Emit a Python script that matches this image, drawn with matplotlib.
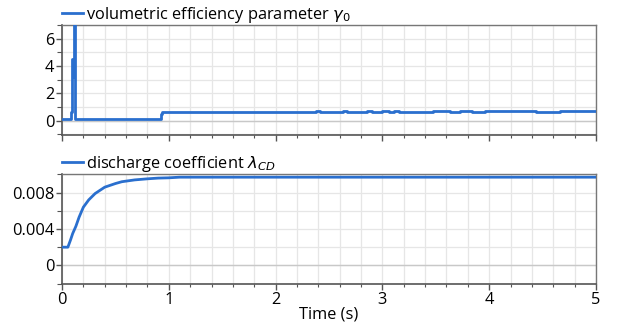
import matplotlib
matplotlib.use("Agg")
import matplotlib.pyplot as plt
from matplotlib.ticker import MultipleLocator

# ---- data ----
gamma_t = [0.0, 0.080, 0.084, 0.096, 0.104, 0.112, 0.119, 0.925, 0.935,
           0.96, 0.99, 1.03, 1.08, 1.13, 1.20, 1.26, 1.34, 1.40, 1.48, 1.55,
           2.38, 2.42, 2.63, 2.67, 2.86, 2.90, 3.00, 3.06, 3.11, 3.16,
           3.47, 3.63, 3.73, 3.84, 3.96, 4.44, 4.66, 5.0]
gamma_v = [0.10, 0.10, 0.65, 4.5, 3.2, 7.5, 0.10, 0.50, 0.62,
           0.66, 0.62, 0.66, 0.62, 0.66, 0.62, 0.66, 0.62, 0.66, 0.62, 0.66,
           0.71, 0.66, 0.71, 0.66, 0.71, 0.66, 0.71, 0.60, 0.71, 0.66,
           0.71, 0.60, 0.70, 0.60, 0.70, 0.60, 0.70, 0.70]

lam_t = [0.0, 0.055, 0.08, 0.10, 0.13, 0.16, 0.20, 0.25, 0.31, 0.40, 0.50,
         0.56, 0.68, 0.80, 0.90, 1.00, 1.10, 5.0]
lam_v = [0.0020, 0.0020, 0.0028, 0.0035, 0.0043, 0.0053, 0.0064, 0.0072,
         0.0079, 0.0086, 0.0090, 0.0092, 0.0094, 0.00952, 0.0096, 0.00963,
         0.0097, 0.0097]

label_top = r"volumetric efficiency parameter $\gamma_0$"
label_bot = r"discharge coefficient $\lambda_{CD}$"
xticks = [0, 1, 2, 3, 4, 5]
top_yticks = [0, 2, 4, 6]
bot_yticks = [0, 0.004, 0.008]
bot_yticklabels = ["0", "0.004", "0.008"]

plt.rcParams['font.family'] = ['Open Sans', 'DejaVu Sans']
plt.rcParams['mathtext.fontset'] = 'dejavusans'

LINE = '#2a6fce'
FS = 11.8
LFS = 11.8

fig = plt.figure(figsize=(6.28, 3.29), dpi=100)
ax1 = fig.add_axes([62/628, 1-135/329, 534/628, 110/329])
ax2 = fig.add_axes([62/628, 1-284/329, 534/628, 110/329])

def style(ax):
    ax.set_xlim(0, 5)
    ax.xaxis.set_major_locator(MultipleLocator(1))
    ax.xaxis.set_minor_locator(MultipleLocator(0.2))
    ax.grid(True, which='both', color='#e6e6e6', lw=0.9, zorder=0)
    ax.set_axisbelow(True)
    for s in ['top', 'right']:
        ax.spines[s].set_color('#777777')
        ax.spines[s].set_linewidth(1.0)
    for s in ['left', 'bottom']:
        ax.spines[s].set_color('#555555')
        ax.spines[s].set_linewidth(1.2)
    ax.tick_params(which='major', direction='out', length=4, width=1, color='#555555',
                   labelsize=FS, pad=1.5)
    ax.tick_params(which='minor', direction='out', length=2.5, width=0.8, color='#555555')
    ax.tick_params(axis='y', which='minor', length=3.5)

# top
ax1.plot(gamma_t, gamma_v, color=LINE, lw=2.0, drawstyle='steps-post', label=label_top, zorder=3)
ax1.set_ylim(-1.05, 7.0)
ax1.set_yticks(top_yticks)
ax1.yaxis.set_minor_locator(MultipleLocator(1))
style(ax1)
ax1.axhline(0, color='#c8c8c8', lw=1.0, zorder=1)
ax1.set_xticks(xticks)
ax1.set_xticklabels([])

# bottom
ax2.plot(lam_t, lam_v, color=LINE, lw=2.0, label=label_bot, zorder=3)
ax2.set_ylim(-0.00205, 0.01005)
ax2.set_yticks(bot_yticks)
ax2.set_yticklabels(bot_yticklabels)
ax2.yaxis.set_minor_locator(MultipleLocator(0.002))
style(ax2)
ax2.axhline(0, color='#c8c8c8', lw=1.0, zorder=1)
ax2.set_xticks(xticks)
ax2.set_xticklabels([str(x) for x in xticks])
ax2.set_xlabel("Time (s)", fontsize=FS, labelpad=-1)

for ax in (ax1, ax2):
    ax.legend(loc='lower left', bbox_to_anchor=(-0.004, 0.985), frameon=False,
              fontsize=LFS, handlelength=1.3, handletextpad=0.2,
              borderaxespad=0.0, borderpad=0.1)

fig.savefig("out.png", dpi=100)
